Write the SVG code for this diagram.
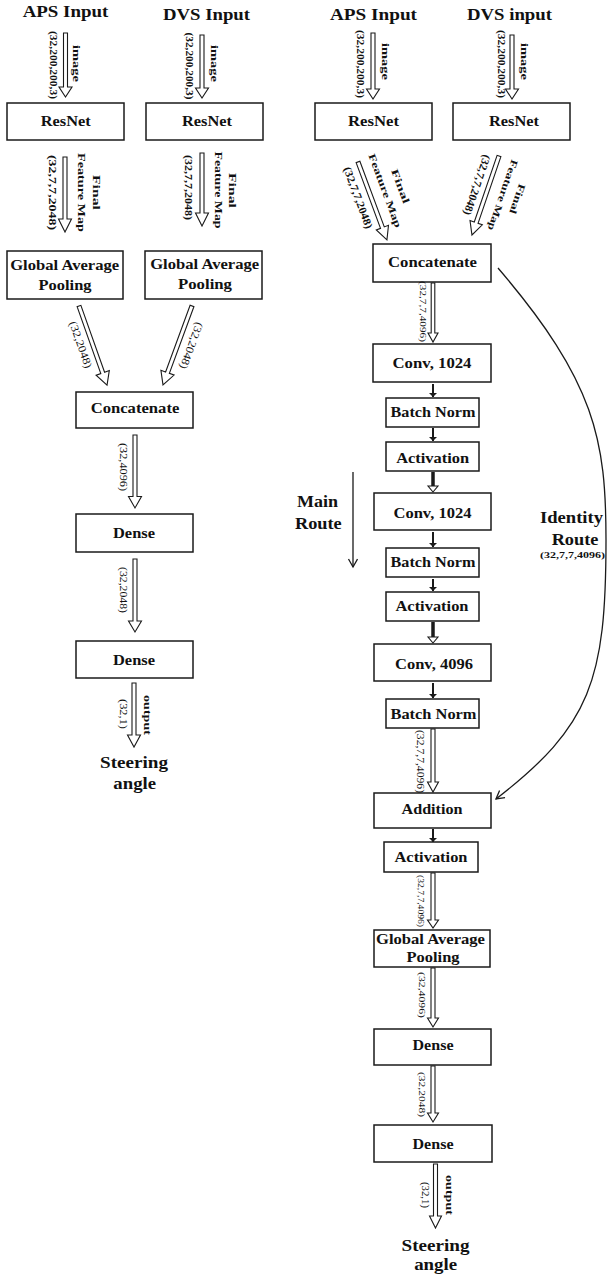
<svg xmlns="http://www.w3.org/2000/svg" width="608" height="1276" viewBox="0 0 608 1276">
<style>
  .box{fill:#fff;stroke:#1a1a1a;stroke-width:1.5}
  text{font-family:"Liberation Serif","Times New Roman",serif;fill:#111;text-anchor:middle}
  .t{font-size:15px;font-weight:bold}
  .h{font-size:16.5px;font-weight:bold}
  .lab{font-size:10px;font-weight:bold}
  .dim{font-size:11px}
  .dimb{font-size:11px;font-weight:bold}
  .blk{fill:#fff;stroke:#1a1a1a;stroke-width:1.1}
  .thin{fill:none;stroke:#1a1a1a;stroke-width:1.3}
  .stem{fill:none;stroke:#1a1a1a;stroke-width:2}
  .thick{fill:none;stroke:#1a1a1a;stroke-width:3.5}
</style>
<defs>
  <marker id="chev" markerWidth="12" markerHeight="12" refX="9" refY="5" orient="auto" markerUnits="userSpaceOnUse">
    <path d="M1,0.5 L9,5 L1,9.5" fill="none" stroke="#1a1a1a" stroke-width="1.3"/>
  </marker>
  <marker id="tri" markerWidth="6" markerHeight="10" refX="4" refY="4" orient="auto" markerUnits="userSpaceOnUse">
    <path d="M0,0 L4,4 L0,8 z" fill="#1a1a1a"/>
  </marker>
</defs>
<rect width="608" height="1276" fill="#fff"/>

<!-- ===== left network: late fusion ===== -->
<g id="title-aps-l"><text class="h" x="65.5" y="17" textLength="85.6" lengthAdjust="spacingAndGlyphs">APS Input</text></g>
<g id="title-dvs-l"><text class="h" x="206.5" y="20" textLength="87" lengthAdjust="spacingAndGlyphs">DVS Input</text></g>
<g id="resnet-aps-l"><rect class="box" x="7" y="103" width="117" height="37"/><text class="t" x="65.7" y="126" textLength="50" lengthAdjust="spacingAndGlyphs">ResNet</text></g>
<g id="resnet-dvs-l"><rect class="box" x="146" y="103" width="117" height="37"/><text class="t" x="207" y="126" textLength="50" lengthAdjust="spacingAndGlyphs">ResNet</text></g>
<g id="gap-aps-l"><rect class="box" x="7" y="251" width="116" height="48"/>
  <text class="t" x="64.7" y="270" textLength="109" lengthAdjust="spacingAndGlyphs">Global Average</text>
  <text class="t" x="65" y="290" textLength="53" lengthAdjust="spacingAndGlyphs">Pooling</text></g>
<g id="gap-dvs-l"><rect class="box" x="145" y="251" width="117" height="48"/>
  <text class="t" x="204.7" y="269" textLength="109" lengthAdjust="spacingAndGlyphs">Global Average</text>
  <text class="t" x="205" y="289" textLength="54" lengthAdjust="spacingAndGlyphs">Pooling</text></g>
<g id="concat-l"><rect class="box" x="76" y="392" width="117" height="36"/><text class="t" x="135" y="413" textLength="88.7" lengthAdjust="spacingAndGlyphs">Concatenate</text></g>
<g id="dense1-l"><rect class="box" x="76" y="514" width="117" height="38"/><text class="t" x="134" y="538" textLength="42" lengthAdjust="spacingAndGlyphs">Dense</text></g>
<g id="dense2-l"><rect class="box" x="76" y="641" width="117" height="37"/><text class="t" x="134" y="665" textLength="42" lengthAdjust="spacingAndGlyphs">Dense</text></g>
<g id="out-l"><text class="h" x="134" y="768" textLength="68" lengthAdjust="spacingAndGlyphs">Steering</text><text class="h" x="134.7" y="789" textLength="42.7" lengthAdjust="spacingAndGlyphs">angle</text></g>

<!-- ===== right network: fusion with residual block ===== -->
<g id="title-aps-r"><text class="h" x="373.5" y="20" textLength="87" lengthAdjust="spacingAndGlyphs">APS Input</text></g>
<g id="title-dvs-r"><text class="h" x="509.5" y="20" textLength="85" lengthAdjust="spacingAndGlyphs">DVS input</text></g>
<g id="resnet-aps-r"><rect class="box" x="315" y="103" width="117" height="37"/><text class="t" x="373.5" y="126" textLength="51" lengthAdjust="spacingAndGlyphs">ResNet</text></g>
<g id="resnet-dvs-r"><rect class="box" x="453" y="103" width="117" height="37"/><text class="t" x="514" y="126" textLength="50" lengthAdjust="spacingAndGlyphs">ResNet</text></g>
<g id="concat-r"><rect class="box" x="373" y="244" width="118" height="38"/><text class="t" x="432.5" y="267" textLength="89" lengthAdjust="spacingAndGlyphs">Concatenate</text></g>
<g id="conv1"><rect class="box" x="373" y="344" width="118" height="38"/><text class="t" x="432" y="368" textLength="79" lengthAdjust="spacingAndGlyphs">Conv, 1024</text></g>
<g id="bn1"><rect class="box" x="386" y="398" width="93" height="29"/><text class="t" x="433" y="417" textLength="85" lengthAdjust="spacingAndGlyphs">Batch Norm</text></g>
<g id="act1"><rect class="box" x="386" y="442" width="93" height="29"/><text class="t" x="432.7" y="462.5" textLength="73" lengthAdjust="spacingAndGlyphs">Activation</text></g>
<g id="conv2"><rect class="box" x="374" y="493" width="117" height="37"/><text class="t" x="432.5" y="517.5" textLength="78" lengthAdjust="spacingAndGlyphs">Conv, 1024</text></g>
<g id="bn2"><rect class="box" x="386" y="548" width="93" height="29"/><text class="t" x="433" y="567" textLength="85" lengthAdjust="spacingAndGlyphs">Batch Norm</text></g>
<g id="act2"><rect class="box" x="386" y="592" width="93" height="29"/><text class="t" x="432" y="611" textLength="73" lengthAdjust="spacingAndGlyphs">Activation</text></g>
<g id="conv3"><rect class="box" x="374" y="644" width="117" height="37"/><text class="t" x="434" y="668.5" textLength="78" lengthAdjust="spacingAndGlyphs">Conv, 4096</text></g>
<g id="bn3"><rect class="box" x="386" y="699" width="93" height="29"/><text class="t" x="433.5" y="719" textLength="86" lengthAdjust="spacingAndGlyphs">Batch Norm</text></g>
<g id="addition"><rect class="box" x="374" y="793" width="117" height="35"/><text class="t" x="432" y="814" textLength="61" lengthAdjust="spacingAndGlyphs">Addition</text></g>
<g id="act3"><rect class="box" x="384" y="842" width="94" height="30"/><text class="t" x="431" y="861.5" textLength="73" lengthAdjust="spacingAndGlyphs">Activation</text></g>
<g id="gap-r"><rect class="box" x="374" y="930" width="116" height="37"/>
  <text class="t" x="430.5" y="943.5" textLength="109" lengthAdjust="spacingAndGlyphs">Global Average</text>
  <text class="t" x="433" y="962" textLength="53" lengthAdjust="spacingAndGlyphs">Pooling</text></g>
<g id="dense1-r"><rect class="box" x="374" y="1029" width="117" height="36"/><text class="t" x="433" y="1049.5" textLength="41" lengthAdjust="spacingAndGlyphs">Dense</text></g>
<g id="dense2-r"><rect class="box" x="374" y="1125" width="118" height="37"/><text class="t" x="433" y="1148.5" textLength="41" lengthAdjust="spacingAndGlyphs">Dense</text></g>
<g id="out-r"><text class="h" x="435.5" y="1250.5" textLength="68" lengthAdjust="spacingAndGlyphs">Steering</text><text class="h" x="435.7" y="1270" textLength="43" lengthAdjust="spacingAndGlyphs">angle</text></g>
<g id="main-route"><text class="h" x="317.5" y="507" textLength="41" lengthAdjust="spacingAndGlyphs">Main</text><text class="h" x="318.3" y="529" textLength="46.7" lengthAdjust="spacingAndGlyphs">Route</text></g>
<g id="identity-route"><text class="h" x="571.5" y="523" textLength="63" lengthAdjust="spacingAndGlyphs">Identity</text><text class="h" x="575" y="545" textLength="46.7" lengthAdjust="spacingAndGlyphs">Route</text>
  <text x="572.5" y="558" style="font-size:9px;font-weight:bold" textLength="65" lengthAdjust="spacingAndGlyphs">(32,7,7,4096)</text></g>

<!-- ===== connectors (block arrows drawn along local +x) ===== -->
<g id="connectors">
  <!-- left network -->
  <g transform="translate(65.5,33) rotate(90)">
    <polygon class="blk" points="0,-2 54,-2 54,-6.5 64,0 54,6.5 54,2 0,2"/>
    <text class="dimb" x="32" y="15.5" textLength="68" lengthAdjust="spacingAndGlyphs">(32,200,200,3)</text>
    <text class="lab" x="30.5" y="-7.5" textLength="37" lengthAdjust="spacingAndGlyphs">image</text>
  </g>
  <g transform="translate(202,35) rotate(90)">
    <polygon class="blk" points="0,-2 53,-2 53,-6.5 63,0 53,6.5 53,2 0,2"/>
    <text class="dimb" x="31" y="16.5" textLength="67" lengthAdjust="spacingAndGlyphs">(32,200,200,3)</text>
    <text class="lab" x="28.5" y="-8.5" textLength="37" lengthAdjust="spacingAndGlyphs">image</text>
  </g>
  <g transform="translate(65,157) rotate(90)">
    <polygon class="blk" points="0,-2 62,-2 62,-6.5 75,0 62,6.5 62,2 0,2"/>
    <text class="dimb" x="35.5" y="16" textLength="75" lengthAdjust="spacingAndGlyphs">(32,7,7,2048)</text>
    <text class="lab" x="35.5" y="-12.5" textLength="79" lengthAdjust="spacingAndGlyphs">Feature Map</text>
    <text class="lab" x="35.5" y="-28" textLength="35" lengthAdjust="spacingAndGlyphs">Final</text>
  </g>
  <g transform="translate(202,153) rotate(90)">
    <polygon class="blk" points="0,-2 60,-2 60,-6.5 73,0 60,6.5 60,2 0,2"/>
    <text class="dimb" x="34.5" y="17" textLength="65" lengthAdjust="spacingAndGlyphs">(32,7,7,2048)</text>
    <text class="lab" x="37" y="-12.5" textLength="77" lengthAdjust="spacingAndGlyphs">Feature Map</text>
    <text class="lab" x="37.5" y="-27" textLength="35" lengthAdjust="spacingAndGlyphs">Final</text>
  </g>
  <g transform="translate(79,306) rotate(70.5)">
    <polygon class="blk" points="0,-2 71,-2 71,-7 84,0 71,7 71,2 0,2"/>
    <text class="dim" x="37" y="15" textLength="49" lengthAdjust="spacingAndGlyphs">(32,2048)</text>
  </g>
  <g transform="translate(192,306) rotate(110.2)">
    <polygon class="blk" points="0,-2 71,-2 71,-7 84,0 71,7 71,2 0,2"/>
    <text class="dim" x="37.4" y="-9.5" textLength="49" lengthAdjust="spacingAndGlyphs">(32,2048)</text>
  </g>
  <g transform="translate(135,435) rotate(90)">
    <polygon class="blk" points="0,-2 61.5,-2 61.5,-6.5 73,0 61.5,6.5 61.5,2 0,2"/>
    <text class="dim" x="32" y="15" textLength="48" lengthAdjust="spacingAndGlyphs">(32,4096)</text>
  </g>
  <g transform="translate(135,559) rotate(90)">
    <polygon class="blk" points="0,-2 62,-2 62,-6.5 73,0 62,6.5 62,2 0,2"/>
    <text class="dim" x="31" y="15" textLength="46" lengthAdjust="spacingAndGlyphs">(32,2048)</text>
  </g>
  <g transform="translate(134,683) rotate(90)">
    <polygon class="blk" points="0,-2 52,-2 52,-6.5 64,0 52,6.5 52,2 0,2"/>
    <text class="dim" x="31" y="14" textLength="30" lengthAdjust="spacingAndGlyphs">(32,1)</text>
    <text class="lab" x="32" y="-10" textLength="40" lengthAdjust="spacingAndGlyphs">output</text>
  </g>

  <!-- right network -->
  <g transform="translate(373,33) rotate(90)">
    <polygon class="blk" points="0,-2 56,-2 56,-6.5 66,0 56,6.5 56,2 0,2"/>
    <text class="dimb" x="31" y="16" textLength="68" lengthAdjust="spacingAndGlyphs">(32,200,200,3)</text>
    <text class="lab" x="28.5" y="-9" textLength="37" lengthAdjust="spacingAndGlyphs">image</text>
  </g>
  <g transform="translate(512,35) rotate(90)">
    <polygon class="blk" points="0,-2 54,-2 54,-6.5 64,0 54,6.5 54,2 0,2"/>
    <text class="dimb" x="29" y="14.5" textLength="68" lengthAdjust="spacingAndGlyphs">(32,200,200,3)</text>
    <text class="lab" x="26.5" y="-8.5" textLength="37" lengthAdjust="spacingAndGlyphs">image</text>
  </g>
  <g transform="translate(358,162) rotate(69.6)">
    <polygon class="blk" points="0,-2 70,-2 70,-6.5 83,0 70,6.5 70,2 0,2"/>
    <text class="dimb" x="33.6" y="16" textLength="65" lengthAdjust="spacingAndGlyphs">(32,7,7,2048)</text>
    <text class="lab" x="36.2" y="-12" textLength="78" lengthAdjust="spacingAndGlyphs">Feature Map</text>
    <text class="lab" x="37.5" y="-28" textLength="36" lengthAdjust="spacingAndGlyphs">Final</text>
  </g>
  <g transform="translate(499,156) rotate(108.9)">
    <polygon class="blk" points="0,-2 70.5,-2 70.5,-6.5 83.5,0 70.5,6.5 70.5,2 0,2"/>
    <text class="dimb" x="34.6" y="15" textLength="63" lengthAdjust="spacingAndGlyphs">(32,7,7,2048)</text>
    <text class="lab" x="35.8" y="-13" textLength="74" lengthAdjust="spacingAndGlyphs">Feature Map</text>
    <text class="lab" x="34.7" y="-28" textLength="31" lengthAdjust="spacingAndGlyphs">Final</text>
  </g>
  <g transform="translate(433,283) rotate(90)">
    <polygon class="blk" points="0,-1.8 50,-1.8 50,-5 59,0 50,5 50,1.8 0,1.8"/>
    <text x="28.5" y="13" style="font-size:8.5px" textLength="61" lengthAdjust="spacingAndGlyphs">(32,7,7,4096)</text>
  </g>
  <g transform="translate(433,729) rotate(90)">
    <polygon class="blk" points="0,-2 53,-2 53,-5.5 63,0 53,5.5 53,2 0,2"/>
    <text x="32.5" y="16" style="font-size:9.5px" textLength="63" lengthAdjust="spacingAndGlyphs">(32,7,7,4096)</text>
  </g>
  <g transform="translate(433,873) rotate(90)">
    <polygon class="blk" points="0,-2 47,-2 47,-5.5 55,0 47,5.5 47,2 0,2"/>
    <text x="28" y="15" style="font-size:8px" textLength="52" lengthAdjust="spacingAndGlyphs">(32,7,7,4096)</text>
  </g>
  <g transform="translate(433,968) rotate(90)">
    <polygon class="blk" points="0,-2 50,-2 50,-5.5 59,0 50,5.5 50,2 0,2"/>
    <text x="27" y="14.5" style="font-size:9px" textLength="46" lengthAdjust="spacingAndGlyphs">(32,4096)</text>
  </g>
  <g transform="translate(433,1066) rotate(90)">
    <polygon class="blk" points="0,-2 47,-2 47,-5.5 56,0 47,5.5 47,2 0,2"/>
    <text x="28.5" y="14.5" style="font-size:9px" textLength="45" lengthAdjust="spacingAndGlyphs">(32,2048)</text>
  </g>
  <g transform="translate(435.5,1164) rotate(90)">
    <polygon class="blk" points="0,-2 52,-2 52,-6 64,0 52,6 52,2 0,2"/>
    <text x="31" y="13.5" style="font-size:9.5px" textLength="26" lengthAdjust="spacingAndGlyphs">(32,1)</text>
    <text class="lab" x="31" y="-10" textLength="40" lengthAdjust="spacingAndGlyphs">output</text>
  </g>

  <!-- short steps inside the residual block -->
  <path class="stem" marker-end="url(#tri)" d="M433,384 V397"/>
  <path class="stem" marker-end="url(#tri)" d="M433,428 V441"/>
  <path class="stem" marker-end="url(#tri)" d="M433,532 V547"/>
  <path class="stem" marker-end="url(#tri)" d="M433,579 V591"/>
  <path class="stem" marker-end="url(#tri)" d="M433,683 V698"/>
  <path class="stem" marker-end="url(#tri)" d="M433,829 V842"/>
  <path class="thick" d="M433,472 V486"/>
  <polygon class="blk" points="428,486 438,486 433,492"/>
  <path class="thick" d="M433,622 V637"/>
  <polygon class="blk" points="428,637 438,637 433,643"/>

  <!-- main route indicator -->
  <path class="thin" marker-end="url(#chev)" d="M353,472 V567"/>
  <!-- identity (skip) connection -->
  <path class="thin" marker-end="url(#chev)" d="M498,268 C595.5,382 606,440 606,540 C606,680 590.8,725.8 496,799"/>
</g>
</svg>
